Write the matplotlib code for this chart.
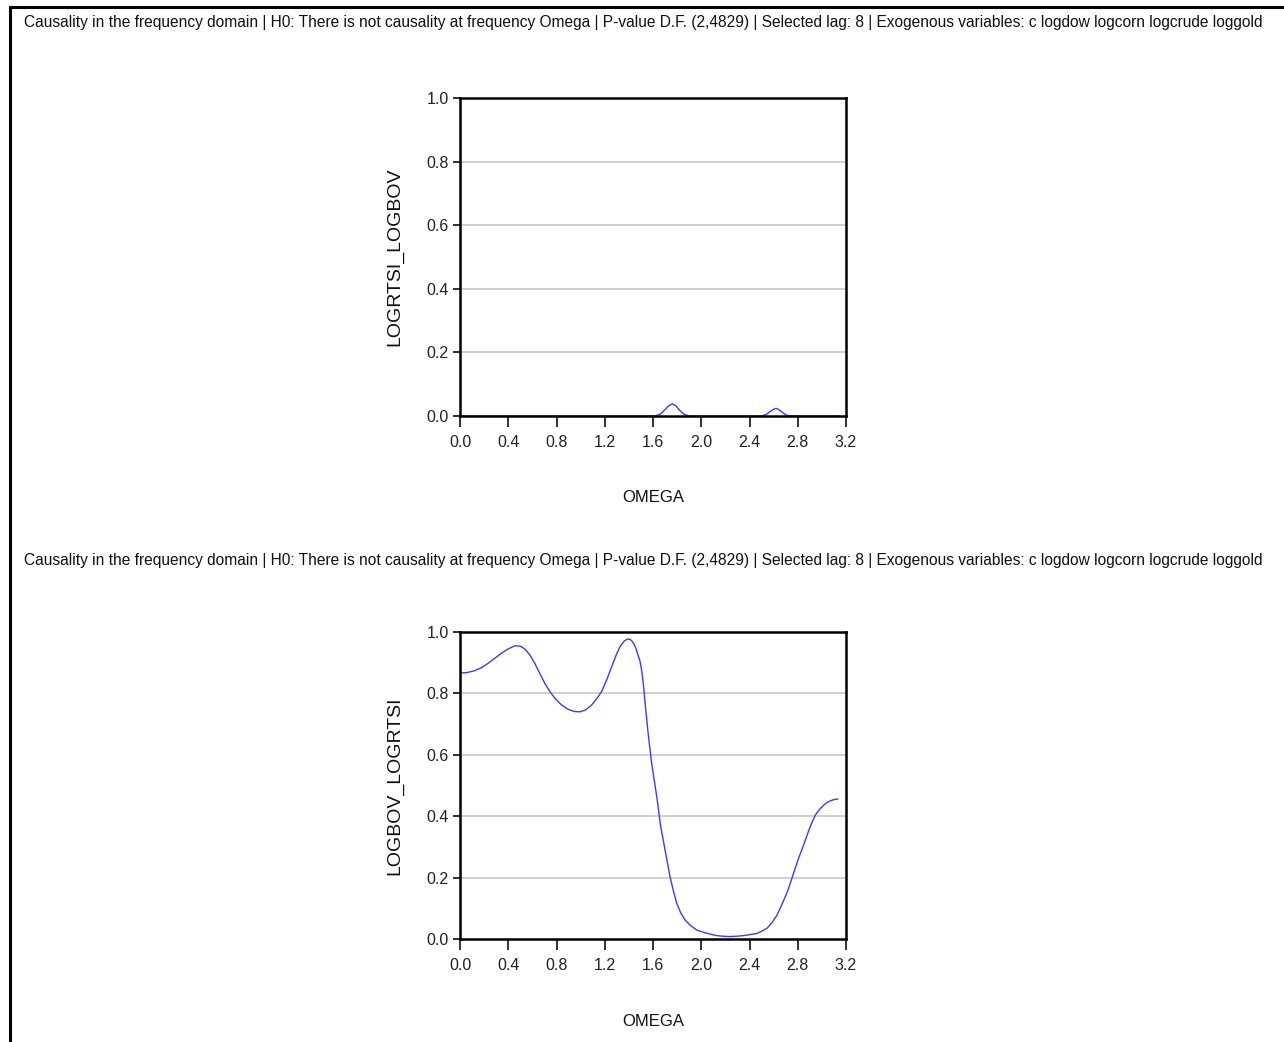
import matplotlib
matplotlib.use("Agg")
import matplotlib.pyplot as plt
from matplotlib.lines import Line2D
from matplotlib.transforms import Bbox

# tipo de letra tipo Arial para todo
fuente = ['Liberation Sans', 'DejaVu Sans']

title = ("Causality in the frequency domain | H0: There is not causality at frequency Omega | "
         "P-value D.F. (2,4829) | Selected lag: 8 | Exogenous variables: c logdow logcorn logcrude loggold")

# LOGRTSI_LOGBOV: casi cero salvo dos bultitos
omega_1 = [0.0, 0.5, 1.0, 1.5, 1.62, 1.66, 1.70, 1.73, 1.76, 1.79, 1.82, 1.86, 1.90,
           2.2, 2.50, 2.54, 2.57, 2.60, 2.62, 2.64, 2.67, 2.70, 2.73, 3.0, 3.14]
pval_1 = [0.0, 0.0, 0.0, 0.0, 0.0, 0.006, 0.020, 0.032, 0.038, 0.032, 0.018, 0.005, 0.0,
          0.0, 0.0, 0.005, 0.014, 0.021, 0.024, 0.021, 0.012, 0.004, 0.0, 0.0, 0.0]

# LOGBOV_LOGRTSI
omega_2 = [0.0, 0.06, 0.122, 0.18, 0.233, 0.29, 0.344, 0.40, 0.454, 0.50, 0.537, 0.58,
           0.620, 0.66, 0.703, 0.745, 0.787, 0.84, 0.897, 0.95, 0.994, 1.04, 1.091, 1.13,
           1.174, 1.217, 1.257, 1.295, 1.326, 1.36, 1.38, 1.395, 1.41, 1.425, 1.44, 1.455,
           1.47, 1.492, 1.506, 1.52,
           1.534, 1.561, 1.589, 1.631, 1.664, 1.700, 1.741, 1.77, 1.797, 1.83, 1.866, 1.908,
           1.963, 2.018, 2.074, 2.129, 2.18, 2.240, 2.29, 2.350, 2.40, 2.461, 2.50, 2.545,
           2.59, 2.628, 2.66, 2.697, 2.724, 2.752, 2.78, 2.807, 2.835, 2.863, 2.890, 2.918,
           2.946, 2.98, 3.015, 3.045, 3.070, 3.10, 3.131]
pval_2 = [0.866, 0.868, 0.874, 0.884, 0.898, 0.915, 0.931, 0.945, 0.955, 0.954, 0.945, 0.925,
          0.898, 0.866, 0.833, 0.806, 0.784, 0.763, 0.748, 0.741, 0.740, 0.746, 0.762, 0.781,
          0.806, 0.845, 0.887, 0.925, 0.952, 0.970, 0.975, 0.977, 0.976, 0.971, 0.962, 0.950,
          0.932, 0.905, 0.875, 0.830,
          0.770, 0.665, 0.572, 0.464, 0.366, 0.290, 0.203, 0.155, 0.116, 0.085, 0.062, 0.045,
          0.029, 0.022, 0.016, 0.011, 0.009, 0.008, 0.009, 0.011, 0.014, 0.018, 0.025, 0.035,
          0.055, 0.078, 0.105, 0.138, 0.165, 0.198, 0.232, 0.263, 0.292, 0.322, 0.352, 0.380,
          0.404, 0.422, 0.436, 0.445, 0.450, 0.454, 0.456]

xticks = [0.0, 0.4, 0.8, 1.2, 1.6, 2.0, 2.4, 2.8, 3.2]
yticks = [0.0, 0.2, 0.4, 0.6, 0.8, 1.0]

W, H = 1284, 1042
fig = plt.figure(figsize=(W / 100, H / 100), dpi=100)
fig.patch.set_facecolor('white')

# marco negro (se sale por la derecha y por abajo)
fig.add_artist(Line2D([10 / W, 10 / W], [0, 1 - 7 / H], color='black', lw=2.2))
fig.add_artist(Line2D([10 / W, 1], [1 - 7 / H, 1 - 7 / H], color='black', lw=2.2))

paneles = [
    (omega_1, pval_1, 'LOGRTSI_LOGBOV', 22, (460, 98, 846, 416)),
    (omega_2, pval_2, 'LOGBOV_LOGRTSI', 560, (460, 632, 846, 939)),
]

# el titulo largo se corta antes del borde derecho
clip = Bbox([[0, 0], [1266, H]])
for om, pv, nombre, ty, (x0, y0, x1, y1) in paneles:
    t = fig.text(24 / W, 1 - ty / H, title, fontsize=11.2, family=fuente,
                 ha='left', va='center', color='#111111')
    t.set_clip_box(clip)
    t.set_clip_on(True)

    ax = fig.add_axes([x0 / W, 1 - y1 / H, (x1 - x0) / W, (y1 - y0) / H])
    ax.plot(om, pv, color='#3a3aff', lw=1.0)
    ax.set_xlim(0, 3.2)
    ax.set_ylim(0, 1.0)
    ax.set_xticks(xticks)
    ax.set_yticks(yticks)
    ax.set_xticklabels([f'{v:.1f}' for v in xticks], family=fuente, fontsize=11.5)
    ax.set_yticklabels([f'{v:.1f}' for v in yticks], family=fuente, fontsize=11.5)
    ax.tick_params(axis='x', direction='out', length=8, width=1.3, pad=6, colors='#222222')
    ax.tick_params(axis='y', direction='out', length=5, width=1.3, pad=3, colors='#222222')
    for s in ax.spines.values():
        s.set_linewidth(1.8)
    for g in yticks[1:-1]:
        ax.axhline(g, color='#c8c8c8', lw=1.2, zorder=0)

    ax.set_ylabel(nombre, family=fuente, fontsize=14, color='#111111')
    ax.yaxis.set_label_coords(-65 / (x1 - x0), 0.5)
    ax.set_xlabel('OMEGA', family=fuente, fontsize=12, color='#111111')
    ax.xaxis.set_label_coords(0.5, -82 / (y1 - y0))
    ax.xaxis.label.set_va('center')
    ax.yaxis.label.set_va('center')

fig.savefig('out.png', dpi=100, facecolor='white')
